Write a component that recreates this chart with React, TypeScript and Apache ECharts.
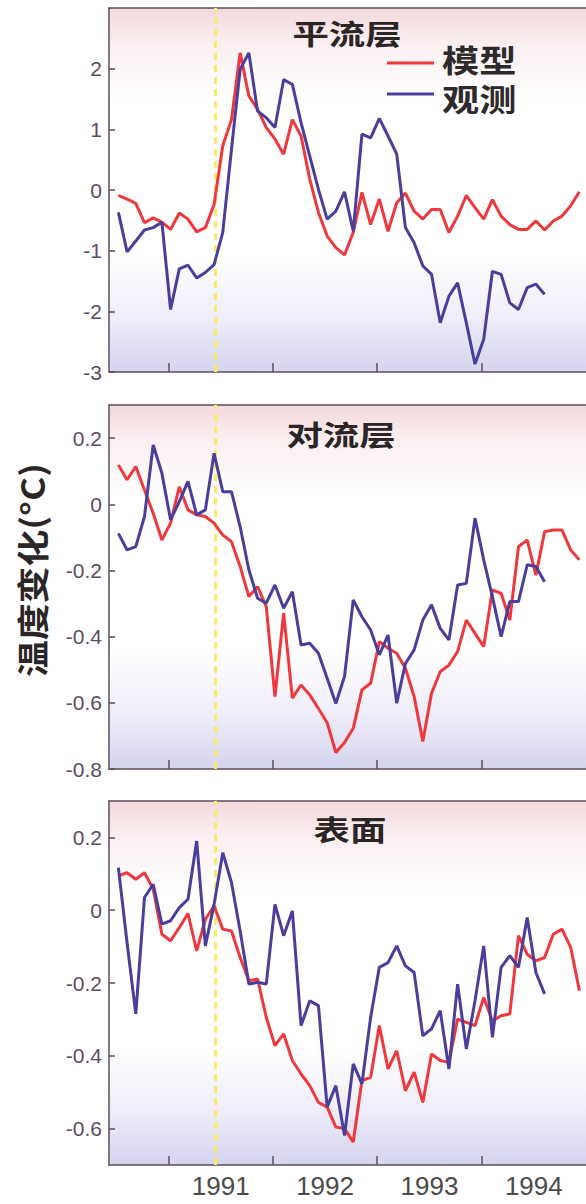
import React, { useEffect, useRef } from "react";
import * as echarts from "echarts";

// ---- data (monthly anomalies, °C) ----
const START_YEAR = 1990.52;
const MONTH = 1 / 12;

const stratModel = [
  -0.09, -0.15, -0.22, -0.54, -0.46, -0.53, -0.65, -0.38, -0.48, -0.69, -0.62, -0.24,
  0.73, 1.16, 2.26, 1.55, 1.33, 1.03, 0.84, 0.59, 1.16, 0.89, 0.18, -0.37,
  -0.76, -0.95, -1.07, -0.7, -0.04, -0.57, -0.15, -0.68, -0.21, -0.05, -0.35, -0.48,
  -0.32, -0.32, -0.7, -0.43, -0.09, -0.29, -0.48, -0.16, -0.43, -0.57, -0.65, -0.65,
  -0.51, -0.66, -0.51, -0.43, -0.26, -0.03,
];
const stratObs = [
  -0.37, -1.02, -0.84, -0.66, -0.62, -0.53, -1.97, -1.3, -1.24, -1.45, -1.36, -1.23,
  -0.7, 0.67, 1.99, 2.26, 1.3, 1.19, 1.03, 1.82, 1.74, 1.11, 0.56, 0.01,
  -0.48, -0.35, -0.03, -0.68, 0.92, 0.86, 1.18, 0.89, 0.59, -0.62, -0.87, -1.25,
  -1.39, -2.19, -1.75, -1.53, -2.19, -2.87, -2.46, -1.34, -1.39, -1.86, -1.97, -1.61,
  -1.55, -1.72,
];
const tropoModel = [
  0.119, 0.074, 0.114, 0.043, -0.027, -0.108, -0.057, 0.053, -0.017, -0.032, -0.037, -0.057,
  -0.093, -0.113, -0.188, -0.279, -0.249, -0.309, -0.581, -0.329, -0.586, -0.546, -0.576, -0.617,
  -0.66, -0.75, -0.72, -0.677, -0.561, -0.541, -0.415, -0.435, -0.45, -0.496, -0.581, -0.717,
  -0.571, -0.506, -0.486, -0.445, -0.35, -0.39, -0.43, -0.259, -0.269, -0.35, -0.128, -0.108,
  -0.214, -0.083, -0.078, -0.078, -0.138, -0.168,
];
const tropoObs = [
  -0.088, -0.138, -0.128, -0.037, 0.179, 0.094, -0.047, 0.008, 0.069, -0.032, -0.017, 0.154,
  0.038, 0.038, -0.068, -0.198, -0.284, -0.299, -0.244, -0.314, -0.264, -0.425, -0.42, -0.45,
  -0.526, -0.602, -0.52, -0.289, -0.34, -0.38, -0.455, -0.395, -0.601, -0.481, -0.44, -0.35,
  -0.304, -0.375, -0.41, -0.244, -0.239, -0.042, -0.168, -0.279, -0.4, -0.294, -0.294, -0.183,
  -0.188, -0.234,
];
const surfModel = [
  0.094, 0.103, 0.085, 0.103, 0.058, -0.066, -0.084, -0.048, -0.009, -0.112, -0.025, 0.012,
  -0.052, -0.057, -0.13, -0.194, -0.189, -0.294, -0.372, -0.34, -0.413, -0.45, -0.482, -0.528,
  -0.541, -0.596, -0.6, -0.637, -0.468, -0.459, -0.317, -0.436, -0.386, -0.496, -0.445, -0.528,
  -0.395, -0.413, -0.418, -0.299, -0.308, -0.317, -0.24, -0.304, -0.29, -0.285, -0.07, -0.121,
  -0.139, -0.13, -0.066, -0.052, -0.102, -0.221,
];
const surfObs = [
  0.117, -0.09, -0.285, 0.035, 0.071, -0.038, -0.029, 0.007, 0.03, 0.19, -0.098, 0.016,
  0.158, 0.076, -0.057, -0.203, -0.198, -0.203, 0.016, -0.07, -0.002, -0.317, -0.249, -0.262,
  -0.541, -0.482, -0.619, -0.422, -0.477, -0.294, -0.157, -0.144, -0.098, -0.153, -0.171, -0.345,
  -0.326, -0.276, -0.436, -0.203, -0.381, -0.249, -0.098, -0.349, -0.157, -0.125, -0.157, -0.02,
  -0.171, -0.23,
];

const yearTicks = [1991, 1992, 1993, 1994];
const yearLabelPositions = [1991.5, 1992.5, 1993.5, 1994.5];
const stratTicks = [-3, -2, -1, 0, 1, 2];
const tropoTicks = [-0.8, -0.6, -0.4, -0.2, 0, 0.2];
const surfTicks = [-0.6, -0.4, -0.2, 0, 0.2];
const eruptionTime = 1991.45;

const panelTitles = ["平流层", "对流层", "表面"];
const seriesNames = ["模型", "观测"];
const yAxisTitle = "温度变化(°C)";

// ---- styling ----
const RED = "#f0383c";
const BLUE = "#4a3e9c";
const AXIS = "#5e4e58";
const LATIN = "'Liberation Sans', Arial, sans-serif";
const CJK = "'Noto Sans CJK SC', 'Noto Sans', sans-serif";
const X_MIN = 1990.43;
const X_MAX = 1995;

const toPoints = (vals: number[]) => vals.map((v, i) => [START_YEAR + i * MONTH, v]);

const panels = [
  { top: 8, height: 364, min: -3, max: 3, ticks: stratTicks, model: stratModel, obs: stratObs, title: panelTitles[0], titleX: 347, titleY: 32 },
  { top: 405, height: 364, min: -0.8, max: 0.3, ticks: tropoTicks, model: tropoModel, obs: tropoObs, title: panelTitles[1], titleX: 341, titleY: 433 },
  { top: 801, height: 364, min: -0.7, max: 0.3, ticks: surfTicks, model: surfModel, obs: surfObs, title: panelTitles[2], titleX: 350, titleY: 828 },
];

export default function App() {
  const ref = useRef<HTMLDivElement>(null);

  useEffect(() => {
    if (!ref.current) return;
    const chart = echarts.init(ref.current, undefined, { renderer: "svg" });

    const bg = () =>
      new echarts.graphic.LinearGradient(0, 0, 0, 1, [
        { offset: 0, color: "#f3d9dd" },
        { offset: 0.1, color: "#faeff1" },
        { offset: 0.25, color: "#ffffff" },
        { offset: 0.68, color: "#ffffff" },
        { offset: 0.85, color: "#eeedf9" },
        { offset: 1, color: "#d6d4ef" },
      ]);

    const grid: any[] = [];
    const xAxis: any[] = [];
    const yAxis: any[] = [];
    const series: any[] = [];

    panels.forEach((p, k) => {
      grid.push({
        left: 109,
        right: 0,
        top: p.top,
        height: p.height,
        show: true,
        borderWidth: 0,
        backgroundColor: bg(),
      });
      xAxis.push({
        gridIndex: k,
        type: "value",
        min: X_MIN,
        max: X_MAX,
        axisLine: { show: true, onZero: false, lineStyle: { color: AXIS, width: 1.5 } },
        axisTick: { show: true, inside: true, length: 9, customValues: yearTicks, lineStyle: { color: AXIS, width: 1.5 } },
        axisLabel: {
          show: k === 2,
          customValues: yearLabelPositions,
          formatter: (v: number) => String(Math.floor(v)),
          fontSize: 26,
          color: "#4a4a4a",
          fontFamily: LATIN,
          margin: 8,
        },
        splitLine: { show: false },
      });
      xAxis.push({
        gridIndex: k,
        type: "value",
        position: "top",
        min: X_MIN,
        max: X_MAX,
        axisLine: { show: true, onZero: false, lineStyle: { color: AXIS, width: 1.5 } },
        axisTick: { show: false },
        axisLabel: { show: false },
        splitLine: { show: false },
      });
      yAxis.push({
        gridIndex: k,
        type: "value",
        min: p.min,
        max: p.max,
        axisLine: { show: true, onZero: false, lineStyle: { color: AXIS, width: 1.5 } },
        axisTick: { show: true, inside: true, length: 6, customValues: p.ticks, lineStyle: { color: AXIS, width: 1.5 } },
        axisLabel: {
          customValues: p.ticks,
          formatter: (v: number) =>
            Math.abs(v) < 1e-9 ? "0" : k === 0 ? String(Math.round(v)) : v.toFixed(1),
          fontSize: 21,
          color: "#5c4c62",
          fontFamily: LATIN,
          margin: 7,
        },
        splitLine: { show: false },
      });
      series.push({
        type: "line",
        name: seriesNames[0],
        xAxisIndex: k * 2,
        yAxisIndex: k,
        data: toPoints(p.model),
        symbol: "none",
        lineStyle: { color: RED, width: 3 },
        itemStyle: { color: RED },
        z: 3,
        markLine: {
          silent: true,
          symbol: ["none", "none"],
          label: { show: false },
          lineStyle: { color: "#f7ec62", width: 3, type: [7, 5] },
          data: [{ xAxis: eruptionTime }],
          z: 2,
        },
      });
      series.push({
        type: "line",
        name: seriesNames[1],
        xAxisIndex: k * 2,
        yAxisIndex: k,
        data: toPoints(p.obs),
        symbol: "none",
        lineStyle: { color: BLUE, width: 3 },
        itemStyle: { color: BLUE },
        z: 4,
      });
    });

    const graphic: any[] = [];
    panels.forEach((p) => {
      graphic.push({
        type: "text",
        x: p.titleX,
        y: p.titleY,
        scaleX: 1.3,
        z: 10,
        style: {
          text: p.title,
          fontSize: 28,
          fontWeight: "bold",
          fontFamily: CJK,
          fill: "#2b2526",
          align: "center",
          verticalAlign: "middle",
        },
      });
    });
    // legend
    graphic.push(
      { type: "line", shape: { x1: 387, y1: 63, x2: 434, y2: 63 }, style: { stroke: RED, lineWidth: 3 }, z: 10 },
      { type: "line", shape: { x1: 387, y1: 94, x2: 434, y2: 94 }, style: { stroke: BLUE, lineWidth: 3 }, z: 10 },
      {
        type: "text", x: 442, y: 58, scaleX: 1.2, z: 10,
        style: { text: seriesNames[0], fontSize: 31, fontWeight: "bold", fontFamily: CJK, fill: "#2e2a2b", align: "left", verticalAlign: "middle" },
      },
      {
        type: "text", x: 442, y: 97, scaleX: 1.2, z: 10,
        style: { text: seriesNames[1], fontSize: 31, fontWeight: "bold", fontFamily: CJK, fill: "#2e2a2b", align: "left", verticalAlign: "middle" },
      },
      {
        type: "text", x: 31, y: 570, rotation: Math.PI / 2, scaleX: 1.15, z: 10,
        style: { text: yAxisTitle, fontSize: 32, fontWeight: "bold", fontFamily: CJK, fill: "#2b2526", align: "center", verticalAlign: "middle" },
      }
    );

    chart.setOption({
      animation: false,
      backgroundColor: "#ffffff",
      grid,
      xAxis,
      yAxis,
      series,
      graphic,
    });

    return () => chart.dispose();
  }, []);

  return (
    <div
      ref={ref}
      style={{ position: "fixed", left: 0, top: 0, width: 586, height: 1204, background: "#fff" }}
    />
  );
}
